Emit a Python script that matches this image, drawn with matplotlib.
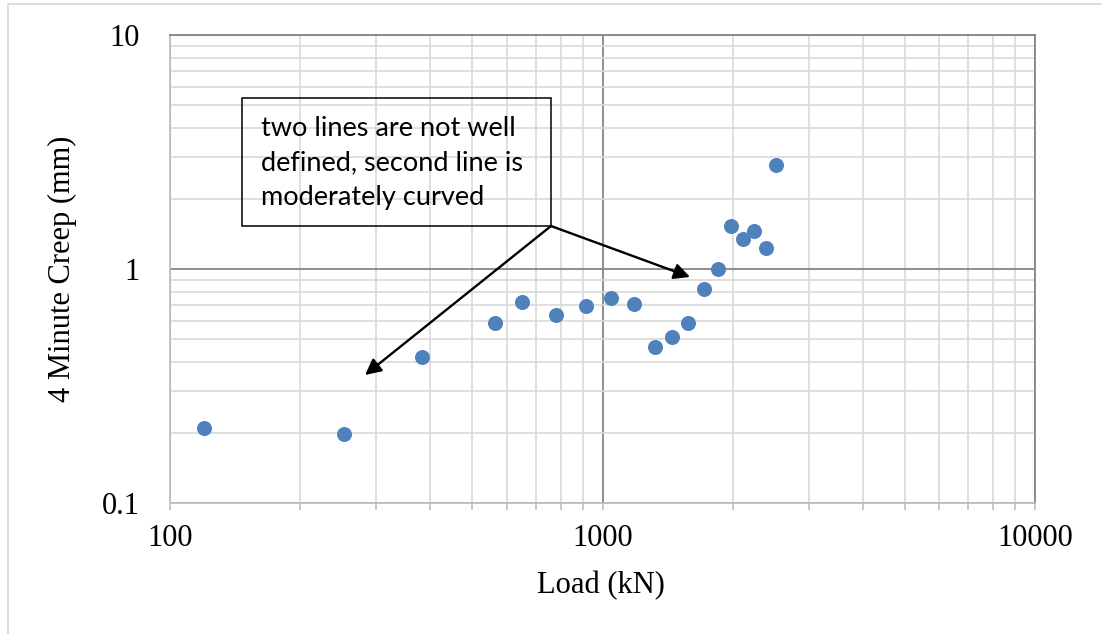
import matplotlib
matplotlib.use("Agg")
import matplotlib.pyplot as plt
from matplotlib.ticker import LogLocator, NullFormatter
from matplotlib.patches import Rectangle

# ---- data ----
load_kn = [120, 253, 382, 564, 653, 781, 915, 1047, 1180, 1320, 1448, 1579,
           1717, 1847, 1982, 2117, 2244, 2384, 2515]
creep_mm = [0.210, 0.197, 0.420, 0.586, 0.721, 0.636, 0.693, 0.750, 0.707,
            0.464, 0.514, 0.586, 0.819, 0.997, 1.531, 1.347, 1.449, 1.233, 2.78]
x_ticks = [100, 1000, 10000]
x_tick_labels = ["100", "1000", "10000"]
y_ticks = [0.1, 1, 10]
y_tick_labels = ["0.1", "1", "10"]
x_label = "Load (kN)"
y_label = "4 Minute Creep (mm)"
note = "two lines are not well\ndefined, second line is\nmoderately curved"

W, H = 1102, 634
fig = plt.figure(figsize=(W / 100, H / 100), dpi=100)
fig.patch.set_facecolor("white")

L, R, T, B = 170, 1035, 35, 503
ax = fig.add_axes([L / W, 1 - B / H, (R - L) / W, (B - T) / H])

ax.set_xscale("log")
ax.set_yscale("log")
ax.set_xlim(100, 10000)
ax.set_ylim(0.1, 10)

ax.plot(load_kn, creep_mm, linestyle="none", marker="o", markersize=10.8,
        markerfacecolor="#4f81bd", markeredgewidth=0, zorder=5, clip_on=False)

serif = "Liberation Serif"
ax.set_xticks(x_ticks)
ax.set_xticklabels(x_tick_labels, fontfamily=serif, fontsize=22)
ax.set_yticks(y_ticks)
ax.set_yticklabels(y_tick_labels, fontfamily=serif, fontsize=22)
ax.xaxis.set_minor_locator(LogLocator(base=10, subs=range(2, 10)))
ax.yaxis.set_minor_locator(LogLocator(base=10, subs=range(2, 10)))
ax.xaxis.set_minor_formatter(NullFormatter())
ax.yaxis.set_minor_formatter(NullFormatter())

ax.tick_params(axis="x", which="both", direction="out", length=5, width=1.2,
               color="#bfbfbf", pad=10)
ax.tick_params(axis="y", which="both", length=0, pad=22)

ax.set_axisbelow(True)
ax.grid(which="minor", color="#d9d9d9", linewidth=1.2)
ax.grid(which="major", color="#868686", linewidth=1.3)

for s in ["left", "bottom"]:
    ax.spines[s].set_color("#bfbfbf")
    ax.spines[s].set_linewidth(1.3)
for s in ["top", "right"]:
    ax.spines[s].set_color("#868686")
    ax.spines[s].set_linewidth(1.3)

fig.text(601 / W, 1 - 586 / H, x_label, fontfamily=serif, fontsize=22,
         ha="center", va="center")
fig.text(62 / W, 1 - 269 / H, y_label, fontfamily=serif, fontsize=22,
         ha="center", va="center", rotation=90)

# annotation box (axes fraction)
bx0, bx1 = (242 - L) / (R - L), (551 - L) / (R - L)
by0, by1 = (B - 226) / (B - T), (B - 98) / (B - T)
ax.add_patch(Rectangle((bx0, by0), bx1 - bx0, by1 - by0, transform=ax.transAxes,
                       fill=False, edgecolor="black", linewidth=1.1, zorder=6))
ax.text((261 - L) / (R - L), (B - 163) / (B - T), note, transform=ax.transAxes,
        fontfamily="Lato", fontsize=19.5, ha="left", va="center", linespacing=1.45,
        zorder=7)

start = (bx1, by0)
for tip_px in [(365, 375), (690, 277)]:
    tip = ((tip_px[0] - L) / (R - L), (B - tip_px[1]) / (B - T))
    ax.annotate("", xy=tip, xycoords="axes fraction", xytext=start,
                textcoords="axes fraction",
                arrowprops=dict(arrowstyle="-|>", color="black", lw=1.7,
                                mutation_scale=24, shrinkA=0, shrinkB=0),
                zorder=7)

# outer chart border
fig.add_artist(Rectangle((8 / W, -0.02), 1.02, 1 - 4 / H + 0.02,
                         transform=fig.transFigure, fill=False,
                         edgecolor="#d9d9d9", linewidth=1.3))

fig.savefig("out.png", dpi=100)
